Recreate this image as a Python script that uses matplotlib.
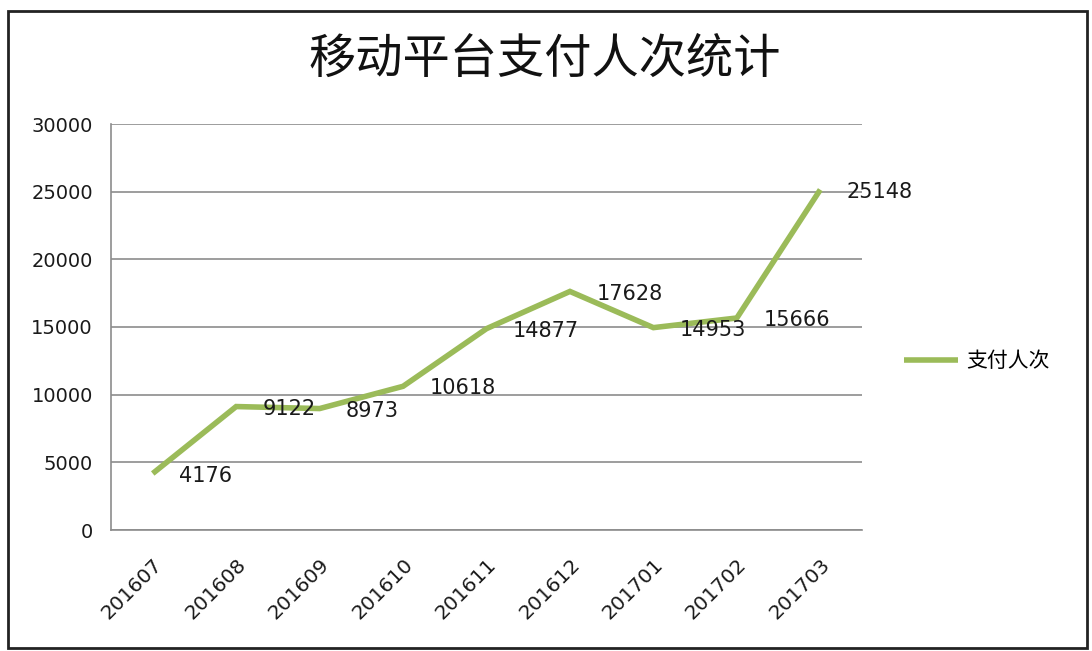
import matplotlib

matplotlib.use("Agg")
import matplotlib.pyplot as plt
from matplotlib.patches import Rectangle

plt.rcParams["font.family"] = ["Noto Sans CJK SC", "DejaVu Sans"]

months = ["201607", "201608", "201609", "201610", "201611",
          "201612", "201701", "201702", "201703"]
payments = [4176, 9122, 8973, 10618, 14877, 17628, 14953, 15666, 25148]
yticks = [0, 5000, 10000, 15000, 20000, 25000, 30000]

GREEN = "#9bbb59"
GRID = "#8c8c8c"
TEXT = "#1a1a1a"

fig = plt.figure(figsize=(10.92, 6.51), dpi=100)
ax = fig.add_axes([111 / 1092, 121 / 651, 751 / 1092, 406 / 651])

x = list(range(len(months)))
ax.plot(x, payments, color=GREEN, lw=4, solid_capstyle="butt",
        solid_joinstyle="miter", label="支付人次", zorder=3)

# data labels sit to the right of each point, like Excel's "right" position
for xi, v in zip(x, payments):
    ax.annotate(str(v), (xi, v), xytext=(19, -1.5), textcoords="offset points",
                ha="left", va="center", fontsize=15, color=TEXT,
                family=["DejaVu Sans"], zorder=4)

ax.set_xlim(-0.5, len(months) - 0.5)
ax.set_ylim(0, 30000)
ax.set_yticks(yticks)
ax.set_yticklabels([str(t) for t in yticks], family=["DejaVu Sans"],
                   fontsize=14, color=TEXT)
ax.yaxis.grid(True, color=GRID, lw=1.2)
ax.set_axisbelow(True)
ax.tick_params(axis="y", length=0, pad=13)
ax.tick_params(axis="x", length=0, pad=18)

ax.set_xticks(x)
ax.set_xticklabels(months, rotation=45, ha="right", va="top",
                   rotation_mode="anchor", family=["DejaVu Sans"],
                   fontsize=14.5, color=TEXT)

for side in ["top", "right"]:
    ax.spines[side].set_visible(False)
for side in ["left", "bottom"]:
    ax.spines[side].set_color(GRID)
    ax.spines[side].set_linewidth(1.2)

fig.text(545 / 1092, 1 - 60 / 651, "移动平台支付人次统计", ha="center",
         va="center", fontsize=34, fontweight="medium", color="#111111")

ax.legend(loc="center left", bbox_to_anchor=(885 / 1092, 1 - 361 / 651),
          bbox_transform=fig.transFigure, frameon=False, fontsize=15,
          handlelength=2.6, handletextpad=0.4)

fig.patches.append(Rectangle((8 / 1092, 3 / 651), 1079 / 1092, 637 / 651,
                             transform=fig.transFigure, fill=False,
                             edgecolor="#222222", lw=2))

fig.savefig("out.png", dpi=100)
